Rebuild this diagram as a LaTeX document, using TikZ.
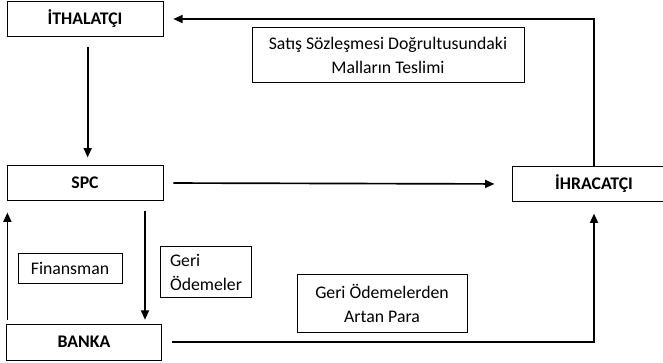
\documentclass[tikz,border=0pt]{standalone}
\usepackage{fontspec}
\setmainfont{Carlito}
\usepackage{tikz}
\usetikzlibrary{arrows.meta,positioning}

\begin{document}
\begin{tikzpicture}[
  x=0.75pt,y=-0.75pt,
  font=\fontsize{13.3pt}{18pt}\selectfont,
  party/.style={draw,align=center,minimum width=117pt,minimum height=26pt,font=\fontsize{13.3pt}{18pt}\selectfont\bfseries,inner sep=2pt},
  note/.style={draw,align=center,inner sep=2pt},
  arr/.style={-{Triangle[length=7pt,width=6pt]},line width=1.25pt},
]
\useasboundingbox (0,0) rectangle (663,363);
\node[party] (ith) at (85,19) {İTHALATÇI};
\node[party] (spc) at (85,183) {SPC};
\node[party,minimum width=116pt,minimum height=27pt] (banka) at (84,342) {BANKA};
\node[party,minimum width=122pt] (ihr) at (594,184) {İHRACATÇI};
\node[note,minimum width=204pt,minimum height=41pt] (teslim) at (388,55) {Satış Sözleşmesi Doğrultusundaki\\Malların Teslimi};
\node[note,minimum width=78pt,minimum height=22.5pt] (fin) at (70,268) {Finansman};
\node[note,align=left,minimum width=68pt,minimum height=38pt] (geri) at (206,272) {Geri\\Ödemeler};
\node[note,minimum width=127.5pt,minimum height=43.5pt] (artan) at (382,303) {Geri Ödemelerden\\Artan Para};
\draw[arr,shorten >=7.5pt] (ihr.north) |- (ith.east);
\draw[arr,shorten <=8pt,shorten >=6pt] ([xshift=2pt]ith.south) -- ([xshift=2pt]spc.north);
\draw[arr,shorten <=7.5pt,shorten >=13.5pt] (spc.east) -- (ihr.west);
\draw[arr,shorten <=3pt,shorten >=9pt] ([xshift=0.75pt]banka.north west) -- ([xshift=0.75pt]banka.north west |- spc.south);
\draw[arr,shorten <=7.5pt,shorten >=3pt] ([xshift=45pt]spc.south) -- ([xshift=45.75pt]banka.north);
\draw[arr,shorten <=8pt,shorten >=9pt] (banka.east) -| (ihr.south);
\end{tikzpicture}
\end{document}
